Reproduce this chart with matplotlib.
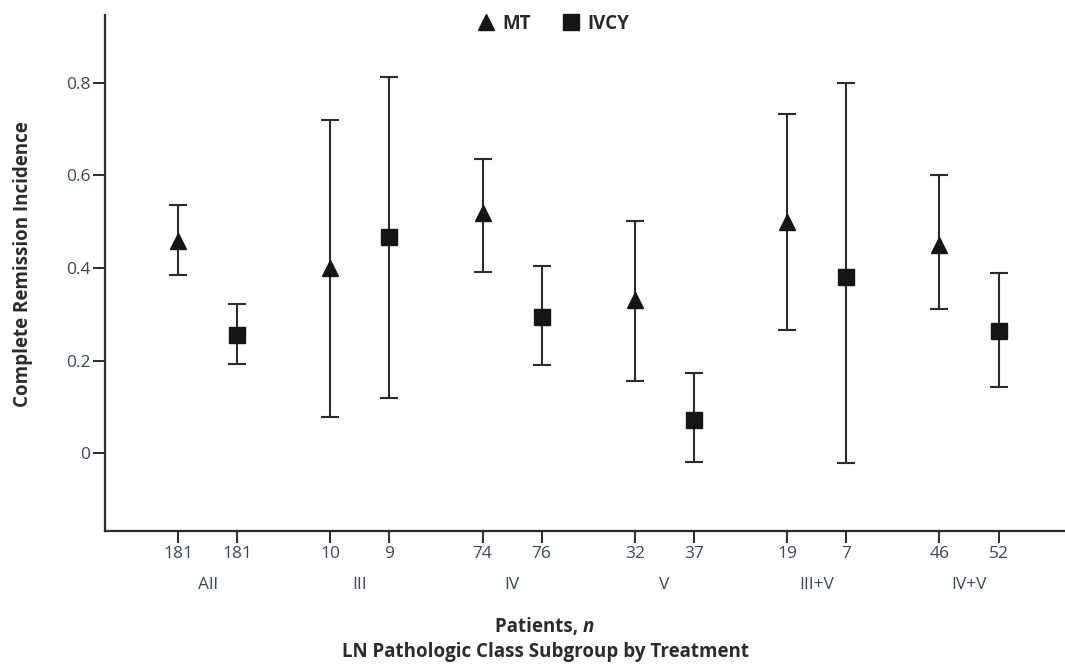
import matplotlib
matplotlib.use("Agg")
import matplotlib.pyplot as plt
from matplotlib.lines import Line2D
import numpy as np

plt.rcParams['font.family'] = ['Open Sans', 'DejaVu Sans']

# Subgroups and patient counts
groups = ["All", "III", "IV", "V", "III+V", "IV+V"]
n_mt = [181, 10, 74, 32, 19, 46]
n_ivcy = [181, 9, 76, 37, 7, 52]

# Complete remission incidence with 95% CI bounds
mt_est = [0.458, 0.400, 0.518, 0.330, 0.500, 0.450]
mt_low = [0.384, 0.078, 0.391, 0.156, 0.266, 0.311]
mt_high = [0.536, 0.719, 0.635, 0.501, 0.734, 0.600]

ivcy_est = [0.255, 0.467, 0.293, 0.071, 0.380, 0.264]
ivcy_low = [0.192, 0.120, 0.191, -0.020, -0.021, 0.143]
ivcy_high = [0.323, 0.814, 0.404, 0.174, 0.799, 0.390]

ink = "#2b2b2b"
tick_col = "#3c4656"
mark_col = "#151515"

fig = plt.figure(figsize=(10.65, 6.65), dpi=100)
ax = fig.add_axes([105 / 1065, 134 / 665, 960 / 1065, 516 / 665])

centers = np.arange(len(groups))
off = 0.194
x_mt = centers - off
x_iv = centers + off

mt_est_a = np.array(mt_est)
iv_est_a = np.array(ivcy_est)
mt_err = [mt_est_a - np.array(mt_low), np.array(mt_high) - mt_est_a]
iv_err = [iv_est_a - np.array(ivcy_low), np.array(ivcy_high) - iv_est_a]

eb_kw = dict(ecolor=ink, elinewidth=1.5, capsize=6.5, capthick=1.5,
             linestyle="none", color=mark_col, zorder=3)
ax.errorbar(x_mt, mt_est, yerr=mt_err, fmt="^", markersize=11, **eb_kw)
ax.errorbar(x_iv, ivcy_est, yerr=iv_err, fmt="s", markersize=11.5, **eb_kw)

ax.set_xlim(-0.673, 5.63)
ax.set_ylim(-0.1686, 0.947)

ax.set_yticks([0, 0.2, 0.4, 0.6, 0.8])
ax.set_yticklabels(["0", "0.2", "0.4", "0.6", "0.8"])

xt = np.ravel(np.column_stack([x_mt, x_iv]))
xl = [str(v) for pair in zip(n_mt, n_ivcy) for v in pair]
ax.set_xticks(xt)
ax.set_xticklabels(xl)

for s in ["top", "right"]:
    ax.spines[s].set_visible(False)
for s in ["left", "bottom"]:
    ax.spines[s].set_linewidth(1.6)
    ax.spines[s].set_color(ink)

ax.tick_params(axis="both", direction="out", length=8.5, width=1.4, color=ink,
               labelcolor=tick_col, labelsize=12.5)
ax.tick_params(axis="x", pad=2)
ax.tick_params(axis="y", pad=2)

for c, g in zip(centers, groups):
    ax.text(c, -0.105, g, transform=ax.get_xaxis_transform(), ha="center",
            va="center", fontsize=12.5, color=tick_col)

ax.set_ylabel("Complete Remission Incidence", fontsize=13.5, fontweight="bold",
              color=ink)
ax.yaxis.set_label_coords(-0.075, 0.517)

split = 583 / 1065
fig.text(split, 1 - 627 / 665, "Patients, ", ha="right", va="center",
         fontsize=13.5, fontweight="bold", color=ink)
fig.text(split, 1 - 627 / 665, "n", ha="left", va="center",
         fontsize=13.5, fontweight="bold", style="italic", color=ink)
fig.text(546 / 1065, 1 - 652 / 665, "LN Pathologic Class Subgroup by Treatment",
         ha="center", va="center", fontsize=13.5, fontweight="bold", color=ink)

handles = [
    Line2D([], [], marker="^", linestyle="none", color=mark_col, markersize=12),
    Line2D([], [], marker="s", linestyle="none", color=mark_col, markersize=12),
]
leg = fig.legend(handles, ["MT", "IVCY"], loc="center",
                 bbox_to_anchor=(553 / 1065, 1 - 24 / 665), ncol=2,
                 frameon=False, fontsize=13.5, handletextpad=0.4,
                 columnspacing=1.6, handlelength=1.0)
for t in leg.get_texts():
    t.set_fontweight("bold")
    t.set_color(ink)

fig.savefig("out.png", dpi=100, facecolor="white")
